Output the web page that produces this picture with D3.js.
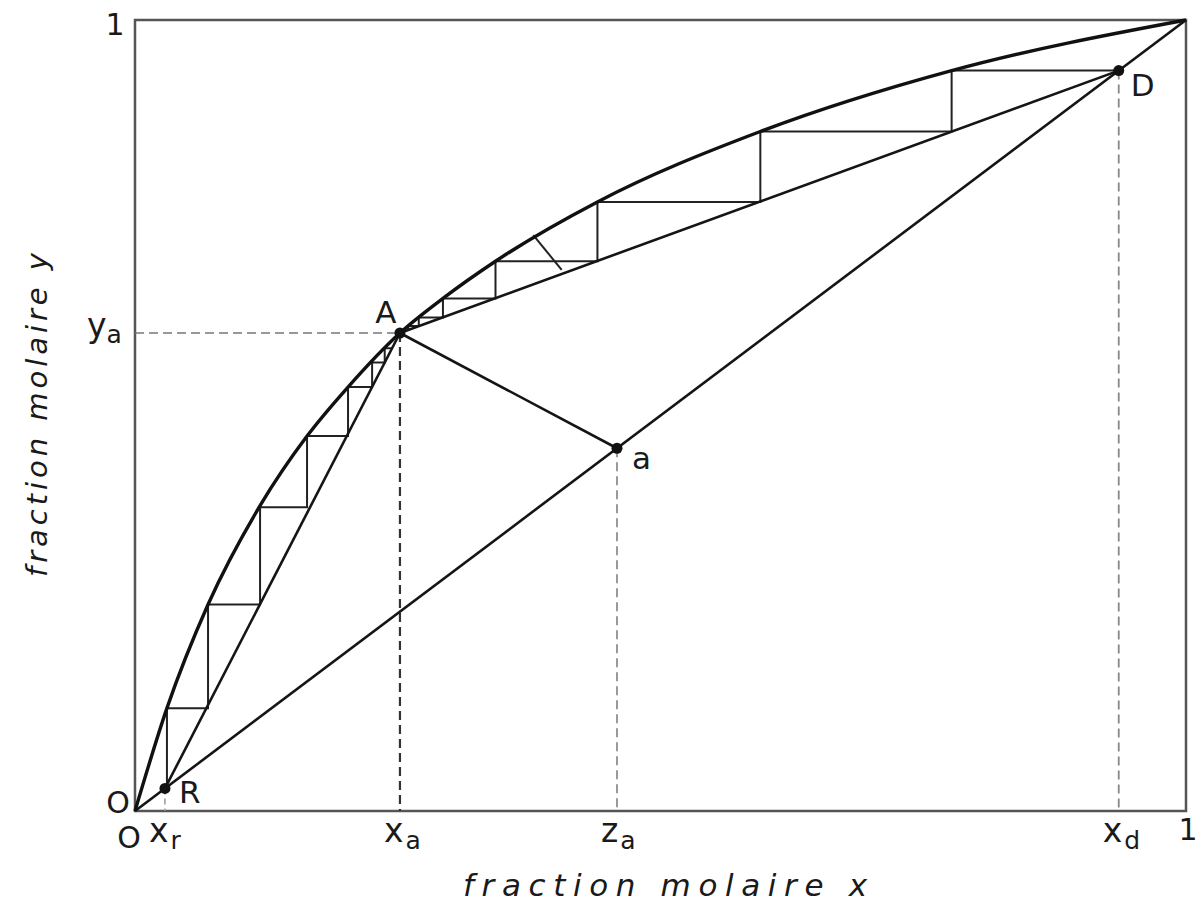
<!DOCTYPE html>
<html>
<head>
<meta charset="utf-8">
<script src="https://cdn.jsdelivr.net/npm/d3@7"></script>
<style>
	body { margin: 0; background: #fff; }
	text { font-family: "DejaVu Sans", "Liberation Sans", Arial, sans-serif; fill: #1a1a1a; }
</style>
</head>
<body>
<script>
// courbe d'équilibre y = f(x)
const eqX = [0, 0.0304, 0.0695, 0.119, 0.1637, 0.2027, 0.2521, 0.293, 0.343, 0.44, 0.595, 0.777, 1];
const eqY = [0, 0.13, 0.261, 0.386, 0.474, 0.536, 0.6043, 0.648, 0.695, 0.770, 0.859, 0.936, 1];

// points remarquables
const xr = 0.0285, xa = 0.2521, ya = 0.6043, za = 0.4586, xd = 0.936;

// escalier de la section de rectification (depuis D)
const rectX = [0.936, 0.777, 0.777, 0.595, 0.595, 0.44, 0.44, 0.343, 0.343, 0.293, 0.293, 0.27, 0.27, 0.26, 0.26];
const rectY = [0.936, 0.936, 0.859, 0.859, 0.770, 0.770, 0.695, 0.695, 0.648, 0.648, 0.624, 0.624, 0.613, 0.613, 0.608];

// escalier de la section d'épuisement (vers R)
const epuisX = [0.2446, 0.2376, 0.2376, 0.2256, 0.2256, 0.2027, 0.2027, 0.1637, 0.1637, 0.119, 0.119, 0.0695, 0.0695, 0.0304, 0.0304];
const epuisY = [0.585, 0.585, 0.567, 0.567, 0.536, 0.536, 0.474, 0.474, 0.384, 0.384, 0.261, 0.261, 0.130, 0.130, 0.033];

// petit trait oblique du dessin original
const traitX = [0.379, 0.406];
const traitY = [0.728, 0.684];

const pointNames = ["A", "a", "D", "R"];
const pointX = [xa, za, xd, xr];
const pointY = [ya, za, xd, xr];

const W = 1198, H = 906;
const svg = d3.select("body").append("svg").attr("width", W).attr("height", H);

const x = d3.scaleLinear().domain([0, 1]).range([135, 1186]);
const y = d3.scaleLinear().domain([0, 1]).range([811, 20]);

const zip = (xs, ys) => xs.map((v, i) => [v, ys[i]]);
const line = d3.line().x(d => x(d[0])).y(d => y(d[1]));

// cadre
svg.append("rect")
	.attr("x", x(0)).attr("y", y(1))
	.attr("width", x(1) - x(0)).attr("height", y(0) - y(1))
	.attr("fill", "none").attr("stroke", "#555").attr("stroke-width", 2.5);

// pointillés
const dashes = [
	{ pts: [[0, ya], [xa, ya]], col: "#777", w: 1.5, d: "9,5" },
	{ pts: [[xa, ya], [xa, 0]], col: "#333", w: 2.2, d: "9,5" },
	{ pts: [[za, za], [za, 0]], col: "#999", w: 2, d: "9,5" },
	{ pts: [[xd, xd], [xd, 0]], col: "#888", w: 1.8, d: "9,5" },
	{ pts: [[xr, xr], [xr, 0]], col: "#999", w: 1.5, d: "6,4" }
];
dashes.forEach(s => {
	svg.append("path").attr("d", line(s.pts))
		.attr("fill", "none").attr("stroke", s.col)
		.attr("stroke-width", s.w).attr("stroke-dasharray", s.d);
});

// escaliers
[zip(rectX, rectY), zip(epuisX, epuisY), zip(traitX, traitY)].forEach(p => {
	svg.append("path").attr("d", line(p))
		.attr("fill", "none").attr("stroke", "#222").attr("stroke-width", 2);
});

// diagonale, droites opératoires, droite d'alimentation
const droites = [
	[[0, 0], [1, 1]],
	[[xr, xr], [xa, ya]],
	[[xa, ya], [xd, xd]],
	[[xa, ya], [za, za]]
];
droites.forEach(p => {
	svg.append("path").attr("d", line(p))
		.attr("fill", "none").attr("stroke", "#151515").attr("stroke-width", 2.6);
});

// courbe d'équilibre
svg.append("path")
	.attr("d", line.curve(d3.curveMonotoneX)(zip(eqX, eqY)))
	.attr("fill", "none").attr("stroke", "#111").attr("stroke-width", 3.4);

// points
svg.selectAll("circle.pt").data(pointNames).enter().append("circle")
	.attr("class", "pt")
	.attr("cx", (d, i) => x(pointX[i]))
	.attr("cy", (d, i) => y(pointY[i]))
	.attr("r", 5.5).attr("fill", "#111");

const ptOffset = { A: [-14, -10, "middle"], a: [15, 21, "start"], D: [12, 25, "start"], R: [14, 15, "start"] };
svg.selectAll("text.pt").data(pointNames).enter().append("text")
	.attr("class", "pt")
	.attr("x", (d, i) => x(pointX[i]) + ptOffset[d][0])
	.attr("y", (d, i) => y(pointY[i]) + ptOffset[d][1])
	.attr("text-anchor", d => ptOffset[d][2])
	.attr("font-size", 31)
	.text(d => d);

// graduations en x
const tickVals = [xr, xa, za, xd];
const tickMain = ["x", "x", "z", "x"];
const tickSub = ["r", "a", "a", "d"];
tickVals.forEach((v, i) => {
	const t = svg.append("text")
		.attr("x", x(v) - 16).attr("y", y(0) + 31)
		.attr("font-size", 33);
	t.append("tspan").text(tickMain[i]);
	t.append("tspan").attr("font-size", 25).attr("dy", 7).attr("dx", 2).text(tickSub[i]);
});

// y_a
const tya = svg.append("text").attr("x", x(0) - 48).attr("y", y(ya) + 4).attr("font-size", 33);
tya.append("tspan").text("y");
tya.append("tspan").attr("font-size", 25).attr("dy", 6).attr("dx", 0).text("a");

// 0 et 1
svg.append("text").attr("x", x(0) - 17).attr("y", y(0) + 2).attr("text-anchor", "middle").attr("font-size", 30).text("O");
svg.append("text").attr("x", x(0) - 6).attr("y", y(0) + 37).attr("text-anchor", "middle").attr("font-size", 30).text("O");
svg.append("text").attr("x", x(0) - 20).attr("y", y(1) + 15).attr("text-anchor", "middle").attr("font-size", 30).text("1");
svg.append("text").attr("x", x(1) + 2).attr("y", y(0) + 29).attr("text-anchor", "middle").attr("font-size", 30).text("1");

// titres des axes
svg.append("text")
	.attr("x", 463).attr("y", 896)
	.attr("font-size", 31).attr("font-style", "italic")
	.attr("textLength", 404).attr("lengthAdjust", "spacing")
	.text("fraction molaire x");
svg.append("text")
	.attr("transform", "translate(47,577) rotate(-90)")
	.attr("font-size", 29).attr("font-style", "italic")
	.attr("textLength", 324).attr("lengthAdjust", "spacing")
	.text("fraction molaire y");
</script>
</body>
</html>
